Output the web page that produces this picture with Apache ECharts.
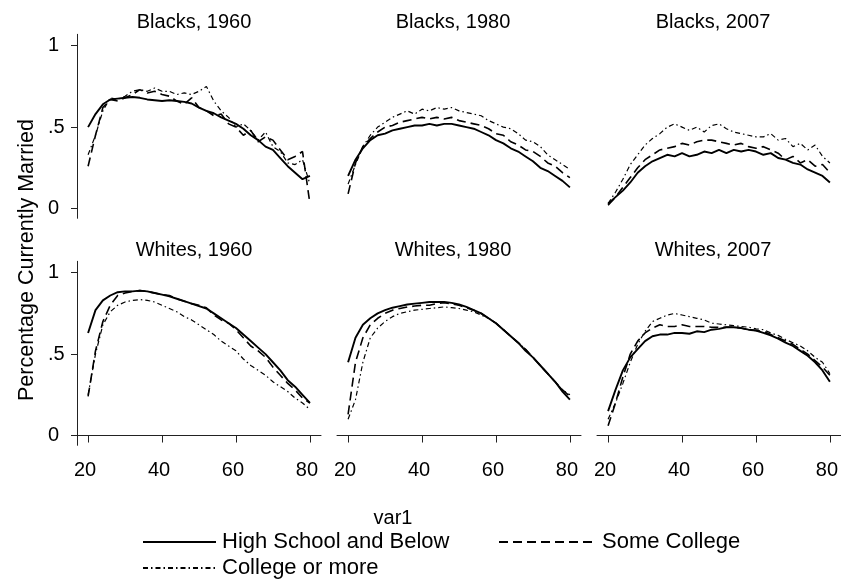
<!DOCTYPE html>
<html>
<head>
<meta charset="utf-8">
<script src="https://cdn.jsdelivr.net/npm/echarts@6/dist/echarts.min.js"></script>
<style>html,body{margin:0;padding:0;background:#fff;}#c{width:841px;height:580px;}</style>
</head>
<body>
<div id="c"></div>
<script>
// ---- data ----
const ages = [20,22,24,26,28,30,32,34,36,38,40,42,44,46,48,50,52,54,56,58,60,62,64,66,68,70,72,74,76,78,80];
const panelTitles = ['Blacks, 1960','Blacks, 1980','Blacks, 2007','Whites, 1960','Whites, 1980','Whites, 2007'];
const seriesNames = ['High School and Below','Some College','College or more'];
const xTicks = [20,40,60,80];
const yTicks = [0,0.5,1];
const yTickLabels = ['0','.5','1'];
const xTitle = 'var1';
const yTitle = 'Percentage Currently Married';

// Blacks 1960
const b1960_hs  = [.50,.58,.64,.67,.675,.68,.685,.68,.67,.665,.66,.665,.66,.655,.645,.62,.60,.585,.56,.54,.52,.49,.45,.42,.38,.36,.31,.26,.22,.18,.20];
const b1960_sc  = [.26,.45,.62,.67,.66,.68,.70,.73,.71,.72,.70,.69,.66,.64,.68,.62,.60,.57,.58,.52,.50,.45,.48,.41,.44,.42,.36,.30,.32,.35,.03];
const b1960_col = [.33,.45,.60,.68,.67,.69,.72,.73,.72,.74,.72,.72,.70,.71,.70,.72,.75,.66,.60,.56,.50,.52,.48,.42,.47,.38,.35,.28,.27,.30,.15];
// Blacks 1980
const b1980_hs  = [.20,.30,.37,.42,.45,.46,.48,.49,.50,.51,.51,.52,.51,.52,.52,.51,.50,.49,.47,.45,.42,.40,.37,.35,.32,.29,.25,.23,.20,.17,.13];
const b1980_sc  = [.09,.28,.38,.43,.47,.50,.51,.53,.54,.55,.56,.55,.56,.55,.56,.54,.53,.52,.51,.49,.46,.45,.41,.39,.36,.35,.32,.28,.26,.22,.19];
const b1980_col = [.15,.27,.38,.45,.50,.53,.56,.58,.60,.58,.61,.60,.62,.61,.62,.60,.59,.58,.57,.54,.52,.50,.49,.46,.42,.41,.38,.33,.30,.27,.24];
// Blacks 2007
const b2007_hs  = [.03,.07,.11,.16,.22,.26,.29,.31,.33,.32,.34,.32,.33,.35,.34,.36,.34,.36,.35,.36,.35,.33,.34,.31,.30,.28,.27,.24,.22,.20,.16];
const b2007_sc  = [.02,.07,.13,.19,.25,.30,.33,.36,.37,.38,.40,.39,.41,.42,.42,.41,.40,.39,.40,.38,.37,.38,.36,.34,.30,.32,.28,.30,.26,.27,.22];
const b2007_col = [.03,.10,.18,.27,.33,.39,.43,.46,.50,.52,.50,.48,.50,.47,.51,.52,.49,.47,.46,.45,.44,.44,.46,.42,.43,.38,.40,.36,.39,.32,.28];
// Whites 1960
const w1960_hs  = [.63,.77,.83,.86,.88,.885,.885,.89,.885,.875,.865,.855,.84,.825,.81,.795,.78,.75,.72,.69,.66,.62,.58,.54,.50,.45,.40,.34,.30,.25,.20];
const w1960_sc  = [.24,.52,.70,.80,.86,.875,.885,.89,.885,.875,.865,.86,.84,.825,.81,.80,.785,.74,.71,.69,.65,.60,.55,.52,.48,.42,.37,.32,.28,.23,.20];
const w1960_col = [.25,.50,.68,.76,.80,.82,.83,.835,.83,.82,.80,.78,.76,.73,.71,.68,.65,.62,.58,.55,.52,.47,.43,.40,.37,.33,.30,.27,.23,.20,.16];
// Whites 1980
const w1980_hs  = [.45,.60,.68,.72,.75,.77,.785,.795,.805,.81,.815,.82,.82,.82,.815,.805,.79,.77,.75,.72,.69,.65,.61,.57,.52,.48,.43,.38,.33,.27,.22];
const w1980_sc  = [.13,.45,.60,.68,.72,.75,.77,.78,.79,.795,.80,.80,.81,.815,.81,.80,.785,.77,.75,.72,.69,.65,.61,.57,.53,.48,.43,.38,.33,.28,.24];
const w1980_col = [.10,.22,.45,.60,.66,.70,.73,.75,.76,.77,.775,.78,.785,.79,.785,.78,.77,.76,.74,.72,.69,.65,.61,.57,.53,.48,.43,.38,.33,.28,.25];
// Whites 2007
const w2007_hs  = [.15,.28,.40,.48,.53,.58,.61,.62,.62,.63,.63,.625,.64,.635,.65,.655,.665,.665,.66,.65,.645,.63,.615,.595,.57,.55,.52,.49,.45,.40,.33];
const w2007_sc  = [.06,.20,.36,.50,.58,.63,.66,.68,.67,.67,.68,.67,.67,.67,.665,.665,.665,.665,.66,.65,.645,.64,.62,.60,.58,.56,.53,.50,.46,.42,.37];
const w2007_col = [.10,.20,.32,.45,.56,.64,.70,.72,.74,.75,.74,.73,.72,.71,.69,.685,.68,.675,.67,.665,.655,.65,.63,.615,.59,.57,.55,.52,.48,.45,.38];

const panelData = [
  [b1960_hs,b1960_sc,b1960_col],
  [b1980_hs,b1980_sc,b1980_col],
  [b2007_hs,b2007_sc,b2007_col],
  [w1960_hs,w1960_sc,w1960_col],
  [w1980_hs,w1980_sc,w1980_col],
  [w2007_hs,w2007_sc,w2007_col]
];

// ---- layout / style ----
const FONT = '"Liberation Sans", Arial, Helvetica, sans-serif';
const colLeft = [77, 337, 597];
const rowTop = [34.3, 261.3];
const gridW = 244, gridH = 184;
const titleX = [194, 453, 713];
const titleY = [22, 250];
const lineStyles = [
  {width: 1.9, type: 'solid'},
  {width: 1.6, type: [9, 5]},
  {width: 1.2, type: [5, 3, 1.5, 3]}
];

const grids = [], xAxes = [], yAxes = [], series = [], graphics = [];
for (let p = 0; p < 6; p++) {
  const r = Math.floor(p / 3), c = p % 3;
  grids.push({left: colLeft[c], top: rowTop[r], width: gridW, height: gridH, containLabel: false});
  const bottomRow = r === 1;
  xAxes.push({
    gridIndex: p, type: 'value', min: 17, max: 83,
    show: bottomRow,
    axisLine: {show: true, lineStyle: {color: '#222', width: 1}},
    axisTick: {show: true, length: 7, inside: false, customValues: xTicks, lineStyle: {color: '#222'}},
    axisLabel: {show: true, customValues: xTicks, margin: 15, color: '#000', fontSize: 20, fontFamily: FONT, padding: [0, 6, 0, 0]},
    splitLine: {show: false}
  });
  const leftCol = c === 0;
  yAxes.push({
    gridIndex: p, type: 'value', min: -0.06, max: 1.07,
    show: leftCol,
    axisLine: {show: true, lineStyle: {color: '#222', width: 1}},
    axisTick: {show: true, length: 6, customValues: yTicks, lineStyle: {color: '#222'}},
    axisLabel: {show: true, customValues: yTicks, align: 'left', margin: 29, color: '#000', fontSize: 20, fontFamily: FONT,
      formatter: v => yTickLabels[yTicks.indexOf(Math.round(v * 10) / 10)]},
    splitLine: {show: false}
  });
  for (let s = 0; s < 3; s++) {
    series.push({
      name: seriesNames[s], type: 'line', xAxisIndex: p, yAxisIndex: p,
      data: ages.map((a, i) => [a, panelData[p][s][i]]),
      symbol: 'none', showSymbol: false, smooth: false, animation: false,
      lineStyle: Object.assign({color: '#000'}, lineStyles[s]),
      itemStyle: {color: '#000'}
    });
  }
  graphics.push({type: 'text', x: titleX[c], y: titleY[r],
    style: {text: panelTitles[p], fill: '#000', font: '20px ' + FONT, align: 'center', verticalAlign: 'middle'}});
}
graphics.push({type: 'text', x: 393, y: 518,
  style: {text: xTitle, fill: '#000', font: '20px ' + FONT, align: 'center', verticalAlign: 'middle'}});
graphics.push({type: 'text', x: 27, y: 260, rotation: Math.PI / 2,
  style: {text: yTitle, fill: '#000', font: '21.5px ' + FONT, align: 'center', verticalAlign: 'middle'}});

const legendText = {color: '#000', fontSize: 22, fontFamily: FONT, padding: [0, 0, 0, 1]};
const legendItem = {color: 'rgba(0,0,0,0)', borderColor: 'rgba(0,0,0,0)', borderWidth: 0, opacity: 0};
const legends = [
  {data: [seriesNames[0]], left: 137, top: 526, itemWidth: 73, itemHeight: 20, textStyle: legendText, itemStyle: legendItem},
  {data: [seriesNames[1]], left: 493, top: 526, itemWidth: 97, itemHeight: 20, textStyle: legendText, itemStyle: legendItem},
  {data: [seriesNames[2]], left: 137, top: 552, itemWidth: 73, itemHeight: 20, textStyle: legendText, itemStyle: legendItem}
];

const chart = echarts.init(document.getElementById('c'), null, {renderer: 'canvas'});
chart.setOption({
  animation: false,
  backgroundColor: '#fff',
  grid: grids, xAxis: xAxes, yAxis: yAxes, series: series,
  legend: legends,
  graphic: graphics
});
</script>
</body>
</html>
